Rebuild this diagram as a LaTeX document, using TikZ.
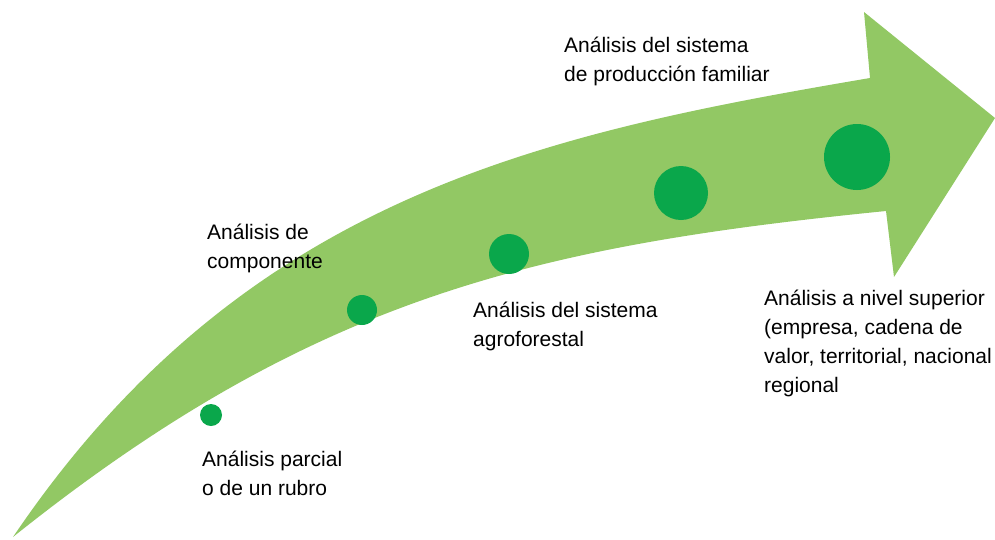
\documentclass[tikz,border=0pt]{standalone}
\usepackage{fontspec}
\setmainfont{Liberation Sans}
\usetikzlibrary{positioning}
\definecolor{leafgreen}{RGB}{146,200,100}
\definecolor{dotgreen}{RGB}{10,167,75}

\begin{document}
\begin{tikzpicture}[x=1pt,y=-1pt,on grid,
  dot/.style={circle,fill=dotgreen,inner sep=0pt},
  lbl/.style={anchor=base west,inner sep=0pt,align=left,text=black,
    font=\fontsize{21}{29}\selectfont}]
\useasboundingbox (0,0) rectangle (995,539);

% the big bent arrow
\fill[leafgreen] (13,537) .. controls (243,197) and (540,134) .. (870,78)
  -- (864,12) -- (995,118) -- (894,277) -- (886,211)
  .. controls (536,246) and (313,297) .. (13,537) -- cycle;

% growing dots
\node[dot,minimum size=22pt] (c1) at (211,415) {};
\node[dot,minimum size=30pt] (c2) [above right=105pt and 151pt of c1] {};
\node[dot,minimum size=40pt] (c3) [above right=56pt and 147pt of c2] {};
\node[dot,minimum size=54pt] (c4) [above right=61pt and 172pt of c3] {};
\node[dot,minimum size=66pt] (c5) [above right=36pt and 176pt of c4] {};

% labels (anchored on the baseline of their last line)
\node[lbl] (t1) at (202,495) {Análisis parcial\\o de un rubro};
\node[lbl] (t2) at (207,268) {Análisis de\\componente};
\node[lbl] (t3) at (473,346) {Análisis del sistema\\agroforestal};
\node[lbl] (t4) at (564,81) {Análisis del sistema\\de producción familiar};
\node[lbl] (t5) at (764,392) {Análisis a nivel superior\\(empresa, cadena de\\valor, territorial, nacional\\regional};
\end{tikzpicture}
\end{document}
